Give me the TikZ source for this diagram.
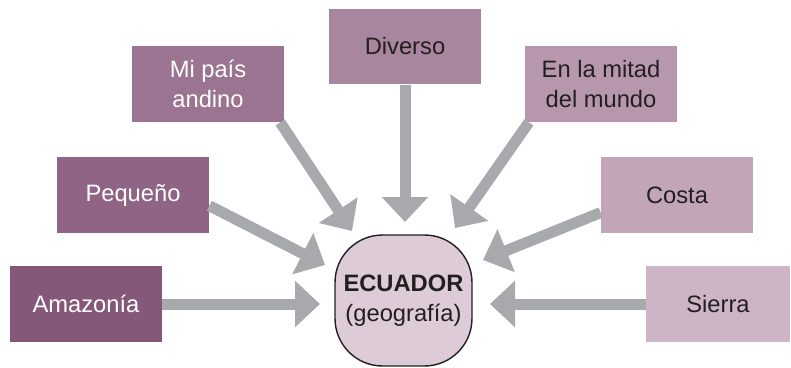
\documentclass[tikz,border=0pt]{standalone}
\usepackage{fontspec}
\setmainfont{Liberation Sans}
\usetikzlibrary{arrows.meta}

\definecolor{amazonia}{HTML}{85587A}
\definecolor{pequeno}{HTML}{8F6485}
\definecolor{mipais}{HTML}{9A7490}
\definecolor{diverso}{HTML}{A8869F}
\definecolor{mitad}{HTML}{B797AE}
\definecolor{costa}{HTML}{C3A5BA}
\definecolor{sierra}{HTML}{CDB4C6}
\definecolor{centro}{HTML}{DDCBD7}
\definecolor{flecha}{HTML}{A7A9AC}
\definecolor{tinta}{HTML}{231F20}

\tikzset{
  box/.style={minimum width=3.04cm, minimum height=1.52cm, inner sep=0pt,
    align=center, font=\fontsize{13.5}{17}\selectfont, text=tinta},
  link/.style={draw=flecha, line width=0.22cm,
    -{Triangle[width=0.9cm,length=0.5cm]}, flecha}
}

\begin{document}
\begin{tikzpicture}[x=0.02cm,y=-0.02cm]
  \useasboundingbox (0,0) rectangle (791,368);

  % centre
  \node[draw=tinta, line width=0.8pt, fill=centro, rounded corners=0.95cm,
        minimum width=2.74cm, minimum height=2.62cm, align=center,
        font=\fontsize{13.5}{17}\selectfont, text=tinta]
    (ecuador) at (403.5,300.5) {\textbf{ECUADOR}\\(geografía)};

  % surrounding boxes
  \node[box, fill=amazonia, text=white] (amaz) at (86,304) {Amazonía};
  \node[box, fill=pequeno, text=white] (peq) at (133,195) {Pequeño};
  \node[box, fill=mipais, text=white] (pais) at (208,84) {Mi país\\andino};
  \node[box, fill=diverso] (div) at (405,46.5) {Diverso};
  \node[box, fill=mitad] (mitad) at (601,84) {En la mitad\\del mundo};
  \node[box, fill=costa] (costa) at (677,195) {Costa};
  \node[box, fill=sierra, minimum width=2.88cm] (sierra) at (718,304) {Sierra};

  % arrow tips, just short of the centre
  \coordinate (tAmaz) at (320,304);
  \coordinate (tPeq) at (325,265);
  \coordinate (tPais) at (352,231);
  \coordinate (tDiv) at (405,222);
  \coordinate (tMitad) at (455,228);
  \coordinate (tCosta) at (483,260);
  \coordinate (tSierra) at (490,304);

  \draw[link] (amaz.east) -- (tAmaz);
  \draw[link] (peq.-8) -- (tPeq);
  \draw[link] (pais.-28) -- (tPais);
  \draw[link] (div.south) -- (tDiv);
  \draw[link] (mitad.-152) -- (tMitad);
  \draw[link] (costa.193) -- (tCosta);
  \draw[link] (sierra.west) -- (tSierra);
\end{tikzpicture}
\end{document}
